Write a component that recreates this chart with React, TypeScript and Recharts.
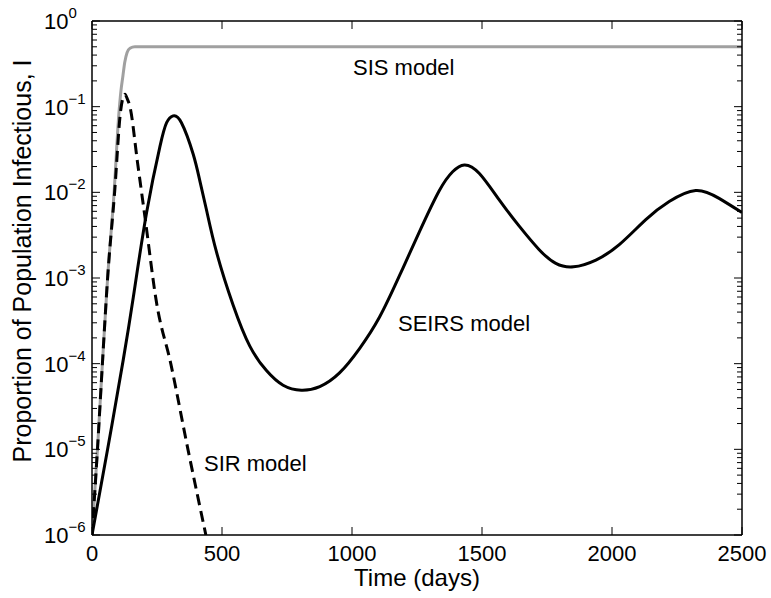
import * as React from "react";
import { Line, LineChart, XAxis, YAxis } from "recharts";

// days / proportion infectious
const sisDays = [0, 21, 40, 60, 85, 103, 111, 119, 126, 135, 146, 165, 2500];
const sisValues = [1e-6, 1e-5, 1e-4, 1e-3, 1e-2, 0.08, 0.15, 0.23, 0.33, 0.43, 0.48, 0.5, 0.5];

const sirDays = [0, 21, 40, 60, 87, 110, 120, 127, 135, 146, 175, 205, 248, 303, 369, 438];
const sirValues = [
  1e-6, 1e-5, 1e-4, 1e-3, 1e-2, 0.089, 0.13, 0.14, 0.125, 0.1, 0.0224, 0.0048, 5.2e-4, 1e-4,
  1e-5, 1e-6
];

const seirsDays = [
  0, 60, 120, 159, 210, 261, 287, 312, 344, 389, 415, 440, 479, 543, 607, 671, 735, 805, 876,
  952, 1029, 1106, 1183, 1260, 1336, 1387, 1432, 1490, 1567, 1644, 1720, 1784, 1852, 1938,
  2028, 2130, 2220, 2322, 2412, 2500
];
const seirsValues = [
  1e-6, 1e-5, 1.1e-4, 6e-4, 5.8e-3, 0.034, 0.065, 0.078, 0.065, 0.028, 0.0135, 6.3e-3, 2.0e-3,
  4.8e-4, 1.6e-4, 8.3e-5, 5.6e-5, 4.9e-5, 5.4e-5, 7.8e-5, 1.5e-4, 3.5e-4, 1.07e-3, 3.5e-3,
  0.0105, 0.0174, 0.0209, 0.0166, 8.1e-3, 4.0e-3, 2.14e-3, 1.48e-3, 1.35e-3, 1.62e-3, 2.45e-3,
  4.8e-3, 7.8e-3, 0.0105, 8.5e-3, 5.8e-3
];

const xTicks = [0, 500, 1000, 1500, 2000, 2500];
const yExponents = [-6, -5, -4, -3, -2, -1, 0];
const minorSteps = [2, 3, 4, 5, 6, 7, 8, 9];

const toRows = (days: number[], values: number[]) =>
  days.map((day, i) => ({ day, value: values[i] }));

const sisData = toRows(sisDays, sisValues);
const sirData = toRows(sirDays, sirValues);
const seirsData = toRows(seirsDays, seirsValues);

const yTicks: number[] = [];
yExponents.forEach((e) => {
  yTicks.push(Math.pow(10, e));
  if (e < 0) minorSteps.forEach((m) => yTicks.push(m * Math.pow(10, e)));
});

const FONT = '"Liberation Sans", Arial, Helvetica, sans-serif';
const MAJOR = 8;
const MINOR = 5;

const isMajor = (v: number) => Math.abs(Math.log10(v) - Math.round(Math.log10(v))) < 1e-6;

function LeftTick(props: any) {
  const { x, y, payload } = props;
  const v = payload.value;
  if (!isMajor(v)) {
    return <line x1={x} x2={x + MINOR} y1={y} y2={y} stroke="#000" strokeWidth={1} />;
  }
  const exp = Math.round(Math.log10(v));
  return (
    <g>
      <line x1={x} x2={x + MAJOR} y1={y} y2={y} stroke="#000" strokeWidth={1} />
      <text x={x - 48} y={y + 8} fontSize={22} fontFamily={FONT} fill="#000">
        10
        <tspan dy={-11} fontSize={15}>
          {exp < 0 ? `\u2212${-exp}` : `${exp}`}
        </tspan>
      </text>
    </g>
  );
}

function RightTick(props: any) {
  const { x, y, payload } = props;
  const len = isMajor(payload.value) ? MAJOR : MINOR;
  return <line x1={x} x2={x - len} y1={y} y2={y} stroke="#000" strokeWidth={1} />;
}

function BottomTick(props: any) {
  const { x, y, payload } = props;
  return (
    <g>
      <line x1={x} x2={x} y1={y} y2={y - MAJOR} stroke="#000" strokeWidth={1} />
      <text x={x} y={y + 26} textAnchor="middle" fontSize={22} fontFamily={FONT} fill="#000">
        {payload.value}
      </text>
    </g>
  );
}

function TopTick(props: any) {
  const { x, y } = props;
  return <line x1={x} x2={x} y1={y} y2={y + MAJOR} stroke="#000" strokeWidth={1} />;
}

export default function App() {
  return (
    <div style={{ position: "absolute", left: 0, top: 0, background: "#fff" }}>
      <LineChart
        width={771}
        height={598}
        margin={{ top: 20, right: 28, bottom: 62, left: 91 }}
      >
        <XAxis
          xAxisId="bottom"
          dataKey="day"
          type="number"
          domain={[0, 2500]}
          allowDataOverflow
          ticks={xTicks}
          interval={0}
          height={1}
          tickSize={0}
          tickMargin={0}
          tickLine={false}
          tick={BottomTick}
          axisLine={{ stroke: "#000", strokeWidth: 1.5 }}
        />
        <XAxis
          xAxisId="top"
          orientation="top"
          dataKey="day"
          type="number"
          domain={[0, 2500]}
          allowDataOverflow
          ticks={xTicks}
          interval={0}
          height={1}
          tickSize={0}
          tickMargin={0}
          tickLine={false}
          tick={TopTick}
          axisLine={{ stroke: "#000", strokeWidth: 1.5 }}
        />
        <YAxis
          yAxisId="left"
          type="number"
          scale="log"
          domain={[1e-6, 1]}
          allowDataOverflow
          ticks={yTicks}
          interval={0}
          width={1}
          tickSize={0}
          tickMargin={0}
          tickLine={false}
          tick={LeftTick}
          axisLine={{ stroke: "#000", strokeWidth: 1.5 }}
        />
        <YAxis
          yAxisId="right"
          orientation="right"
          type="number"
          scale="log"
          domain={[1e-6, 1]}
          allowDataOverflow
          ticks={yTicks}
          interval={0}
          width={1}
          tickSize={0}
          tickMargin={0}
          tickLine={false}
          tick={RightTick}
          axisLine={{ stroke: "#000", strokeWidth: 1.5 }}
        />
        <Line
          xAxisId="bottom"
          yAxisId="left"
          data={sisData}
          dataKey="value"
          type="monotone"
          stroke="#a0a0a0"
          strokeWidth={3}
          dot={false}
          isAnimationActive={false}
        />
        <Line
          xAxisId="bottom"
          yAxisId="left"
          data={seirsData}
          dataKey="value"
          type="natural"
          stroke="#000"
          strokeWidth={3}
          dot={false}
          isAnimationActive={false}
        />
        <Line
          xAxisId="bottom"
          yAxisId="left"
          data={sirData}
          dataKey="value"
          type="monotone"
          stroke="#000"
          strokeWidth={3}
          strokeDasharray="11 6"
          dot={false}
          isAnimationActive={false}
        />
        <text x={353} y={75} fontSize={22} fontFamily={FONT} fill="#000">
          SIS model
        </text>
        <text x={398} y={331} fontSize={22} fontFamily={FONT} fill="#000">
          SEIRS model
        </text>
        <text x={204} y={471} fontSize={22} fontFamily={FONT} fill="#000">
          SIR model
        </text>
        <text
          x={417}
          y={586}
          textAnchor="middle"
          fontSize={24}
          fontFamily={FONT}
          fill="#000"
        >
          Time (days)
        </text>
        <text
          transform="translate(31, 261) rotate(-90)"
          textAnchor="middle"
          fontSize={25}
          fontFamily={FONT}
          fill="#000"
        >
          Proportion of Population Infectious, I
        </text>
      </LineChart>
    </div>
  );
}
